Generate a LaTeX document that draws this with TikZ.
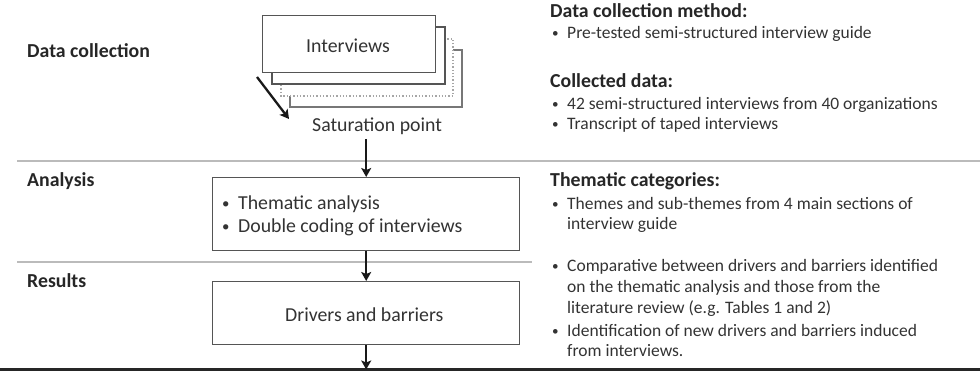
\documentclass[tikz,border=0pt]{standalone}
\usepackage{fontspec}
\setmainfont{Carlito}
\usetikzlibrary{arrows.meta,calc}
\definecolor{txt}{HTML}{333333}
\definecolor{bord}{HTML}{555555}
\definecolor{sep}{HTML}{BBBBBB}
\tikzset{
  lbl/.style={anchor=base west,inner sep=0pt,text=txt,font=\fontsize{17.5}{20}\selectfont},
  boxtxt/.style={anchor=base west,inner sep=0pt,text=txt,font=\fontsize{19.8}{23}\selectfont},
  head/.style={anchor=base west,inner sep=0pt,text=black!85,font=\fontsize{19.8}{23}\bfseries\selectfont},
  card/.style={draw=bord,line width=1.3pt,fill=white},
  procbox/.style={draw=bord,line width=1.4pt,fill=white,inner sep=0pt},
  arr/.style={draw=black!90,line width=2.3pt,-{Stealth[length=9pt,width=10pt,inset=2pt]}},
  sepline/.style={draw=sep,line width=1.1pt},
}
\newcommand{\bul}{\makebox[15pt][l]{\raisebox{0.1em}{\scalebox{0.75}{•}}}}
\newcommand{\bulb}{\makebox[16pt][l]{\raisebox{0.1em}{\scalebox{0.75}{•}}}}
\begin{document}
\begin{tikzpicture}[x=1pt,y=-1pt]
\useasboundingbox (0,0) rectangle (980,371);
% separators
\coordinate (s1a) at (17,161); \coordinate (s1b) at (980,161);
\coordinate (s2a) at (17,262); \coordinate (s2b) at (532,262);
\coordinate (bla) at (0,369.5); \coordinate (blb) at (980,369.5);
\draw[sepline] (s1a) -- (s1b);
\draw[sepline] (s2a) -- (s2b);
\draw[draw=black!85,line width=3pt] (bla) -- (blb);
% stacked cards
\draw[card,draw=bord!80] (290,50) rectangle (462,107);
\draw[card,draw=black!35,dotted,line width=1.6pt] (281,39) rectangle (453,96);
\draw[card] (272,27) rectangle (445,84);
\node[card,minimum width=173pt,minimum height=57pt,anchor=north west,inner sep=0pt] (iv) at (262,15) {};
\node[boxtxt] (ivt) at (306,53) {Interviews};
% saturation
\coordinate (da) at (257,77); \coordinate (db) at (289,119);
\draw[arr] (da) -- (db);
\node[boxtxt] (sat) at (312,132) {Saturation point};
% process boxes
\node[procbox,minimum width=307pt,minimum height=73pt,anchor=north west] (an) at (212,177) {};
\node[boxtxt] (an1) at (222,210) {\bulb Thematic analysis};
\node[boxtxt] (an2) at (222,233) {\bulb Double coding of interviews};
\node[procbox,minimum width=307pt,minimum height=63pt,anchor=north west] (rs) at (212,281) {};
\node[boxtxt] (rst) at (285,322) {Drivers and barriers};
\coordinate (endp) at (an.center |- bla);
\coordinate (satb) at (an.north |- 0,139);
\draw[arr] (satb) -- (an.north);
\draw[arr] (an.south) -- (rs.north);
\draw[arr] (rs.south) -- (endp);
% left labels
\node[head] (l1) at (27,58) {Data collection};
\node[head] (l2) at (27,187) {Analysis};
\node[head] (l3) at (27,288) {Results};
% right column
\node[head] (h1) at (550,18) {Data collection method:};
\node[lbl] (b1) at (552,39) {\bul Pre-tested semi-structured interview guide};
\node[head] (h2) at (550,88) {Collected data:};
\node[lbl] (b2) at (552,110) {\bul 42 semi-structured interviews from 40 organizations};
\node[lbl] (b3) at (552,130) {\bul Transcript of taped interviews};
\node[head] (h3) at (550,187) {Thematic categories:};
\node[lbl] (b4) at (552,210) {\bul Themes and sub-themes from 4 main sections of};
\node[lbl] (b4b) at (567,230) {interview guide};
\node[lbl] (b5) at (552,272) {\bul Comparative between drivers and barriers identified};
\node[lbl] (b5b) at (567,293) {on the thematic analysis and those from the};
\node[lbl] (b5c) at (567,314) {literature review (e.g. Tables 1 and 2)};
\node[lbl] (b6) at (552,337) {\bul Identification of new drivers and barriers induced};
\node[lbl] (b6b) at (567,356) {from interviews.};
\end{tikzpicture}
\end{document}
